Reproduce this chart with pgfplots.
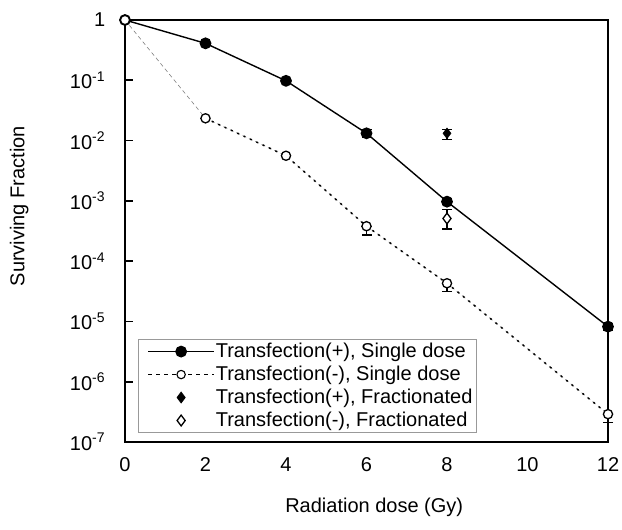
\documentclass[border=0pt]{standalone}
\usepackage{fontspec}
\setmainfont{Liberation Sans}
\usepackage{pgfplots}
\pgfplotsset{compat=1.18}
\usepackage{pgfplotstable}

% surviving fraction, transfection(+), single dose
\pgfplotstableread{
x   y        ep       em
0   1        0        0
2   0.41     0.02     0.02
4   0.098    0.006    0.006
6   0.0132   0.0022   0.0019
8   9.7e-4   1.3e-4   1.0e-4
12  8.2e-6   1.0e-6   1.0e-6
}\plussingle

% transfection(-), single dose
\pgfplotstableread{
x   y        ep   em
0   1        0    0
2   0.0234   0    0
4   0.0056   0    0
6   3.8e-4   0    1.1e-4
8   4.3e-5   0    1.2e-5
12  2.9e-7   0    0.8e-7
}\minussingle

% fractionated
\pgfplotstableread{
x  y       ep      em
8  0.0132  0.0022  0.0027
}\plusfrac
\pgfplotstableread{
x  y       ep      em
8  5.1e-4  2.0e-4  1.7e-4
}\minusfrac

\begin{document}
\fontsize{20bp}{24bp}\selectfont
\begin{tikzpicture}
\path[use as bounding box] (-125bp,-88bp) rectangle (497bp,442bp);
\begin{axis}[
  at={(0,0)}, anchor=south west,
  scale only axis, width=483bp, height=422bp,
  font=\fontsize{20bp}{24bp}\selectfont,
  /pgf/number format/assume math mode=true,
  xmin=0, xmax=12, ymin=1e-7, ymax=1,
  ymode=log, clip=false,
  xtick={0,2,4,6,8,10,12},
  major x tick style={draw=none},
  ytick={1e-7,1e-6,1e-5,1e-4,1e-3,1e-2,1e-1,1},
  yticklabels={10\textsuperscript{-7},10\textsuperscript{-6},10\textsuperscript{-5},10\textsuperscript{-4},10\textsuperscript{-3},10\textsuperscript{-2},10\textsuperscript{-1},1},
  yminorticks=false,
  tick align=inside, ytick pos=left, xtick pos=bottom,
  major tick length=8bp,
  every tick/.style={black, line width=1.6bp},
  axis line style={line width=1.6bp},
  xticklabel style={yshift=-9bp},
  yticklabel style={xshift=-13bp},
  xlabel={Radiation dose (Gy)},
  ylabel={Surviving Fraction},
  every axis x label/.style={at={(axis description cs:0.516,-0.154)}, anchor=center},
  every axis y label/.style={at={(axis description cs:-0.219,0.559)}, anchor=center, rotate=90},
  legend style={at={(0.027,0.021)}, anchor=south west, draw=gray!80, line width=0.8bp,
    font=\fontsize{20bp}{24bp}\selectfont, row sep=1.5bp, inner xsep=3bp, inner ysep=1.5bp,
    nodes={inner xsep=1bp}},
  legend cell align=left,
  legend image code/.code={\path (0bp,0bp); \draw[mark repeat=2,mark phase=2,#1] plot coordinates {(6bp,0bp)(39bp,0bp)(72bp,0bp)};},
  error bars/error bar style={line width=1.3bp, black},
  error bars/error mark options={rotate=90, mark size=5bp, line width=1.3bp, black},
]
% transfection(+) single dose
\addplot[black, line width=1.4bp, mark=*, mark size=5.2bp,
  error bars/.cd, y dir=both, y explicit]
  table[x=x, y=y, y error plus=ep, y error minus=em] {\plussingle};
\addlegendentry{Transfection(+), Single dose}
% transfection(-) single dose: thin grey dashed and black dotted line
\addplot[forget plot, gray, line width=0.6bp, dash pattern=on 4bp off 3bp]
  table[x=x, y=y] {\minussingle};
\addplot[forget plot, black, line width=1.5bp, dash pattern=on 2bp off 5bp, restrict x to domain=2:12]
  table[x=x, y=y] {\minussingle};
\addplot[forget plot, only marks, black, mark=*, mark size=4.6bp, mark options={fill=white, line width=1.3bp},
  error bars/.cd, y dir=both, y explicit]
  table[x=x, y=y, y error plus=ep, y error minus=em] {\minussingle};
\addlegendimage{black, line width=1.1bp, dash pattern=on 4bp off 4bp, mark=*, mark size=4.2bp, mark options={solid, fill=white, line width=1.1bp}}
\addlegendentry{Transfection(-), Single dose}
% fractionated
\addplot[only marks, black, mark=diamond*, mark size=5.4bp,
  error bars/.cd, y dir=both, y explicit]
  table[x=x, y=y, y error plus=ep, y error minus=em] {\plusfrac};
\addlegendentry{Transfection(+), Fractionated}
\addplot[only marks, black, mark=diamond*, mark size=5.4bp, mark options={fill=white, line width=1.3bp},
  error bars/.cd, y dir=both, y explicit]
  table[x=x, y=y, y error plus=ep, y error minus=em] {\minusfrac};
\addlegendentry{Transfection(-), Fractionated}
\end{axis}
\end{tikzpicture}
\end{document}
